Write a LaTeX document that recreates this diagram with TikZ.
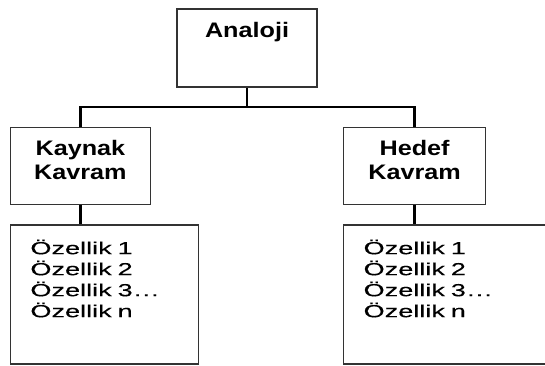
\documentclass[tikz,border=0pt]{standalone}
\usepackage{fontspec}
\setmainfont{Liberation Sans}
\newfontfamily\titolofont[FakeStretch=1.2]{Liberation Sans}
\newfontfamily\elencofont[FakeStretch=1.55, FakeBold=0.2]{Liberation Sans}
\usepackage{tikz}
\usetikzlibrary{positioning}
\definecolor{bordo}{HTML}{333333}
\tikzset{
	% riquadro con titolo in grassetto (testo in alto)
	titolo/.style={draw=bordo, line width=1.6pt, rectangle, inner ysep=0pt, align=center,
	               font=\titolofont\bfseries\fontsize{21}{24}\selectfont},
	% riquadro con l'elenco delle proprietà
	elenco/.style={draw=bordo, line width=1.6pt, rectangle, inner xsep=20pt, inner ysep=0pt,
	               align=left, text width=148pt, text height=29pt, text depth=110pt,
	               font=\elencofont\fontsize{17.5}{21}\selectfont},
	% linea di collegamento
	ramo/.style={line width=2.8pt, black},
}

\begin{document}
\begin{tikzpicture}
    \useasboundingbox (0,0) rectangle (545pt,-365pt);
    \node[titolo, minimum width=140pt, text height=28pt, text depth=50pt] (analoji) at (247pt,-48pt) {Analoji};
    \node[titolo, minimum width=140pt, text height=52pt, text depth=25pt, below left=39pt and 25pt of analoji] (kaynak) {Kaynak\\ Kavram};
    \node[titolo, minimum width=142pt, text height=52pt, text depth=25pt, below right=39pt and 25pt of analoji] (hedef) {Hedef\\ Kavram};
    \node[elenco, below=19pt of kaynak.south west, anchor=north west] (ozkaynak) {Özellik 1\\ Özellik 2\\ Özellik 3\ldots\\ Özellik n};
    \node[elenco, text width=172pt, below=19pt of hedef.south west, anchor=north west] (ozhedef) {Özellik 1\\ Özellik 2\\ Özellik 3\ldots\\ Özellik n};
    \draw[ramo] (analoji.south) -- (analoji.south |- 0,-107pt) coordinate (giunto);
    \draw[ramo] (kaynak.north) |- (giunto) -| (hedef.north);
    \draw[ramo] (kaynak.south) -- (kaynak.south |- ozkaynak.north);
    \draw[ramo] (hedef.south) -- (hedef.south |- ozhedef.north);
  \end{tikzpicture}
\end{document}
